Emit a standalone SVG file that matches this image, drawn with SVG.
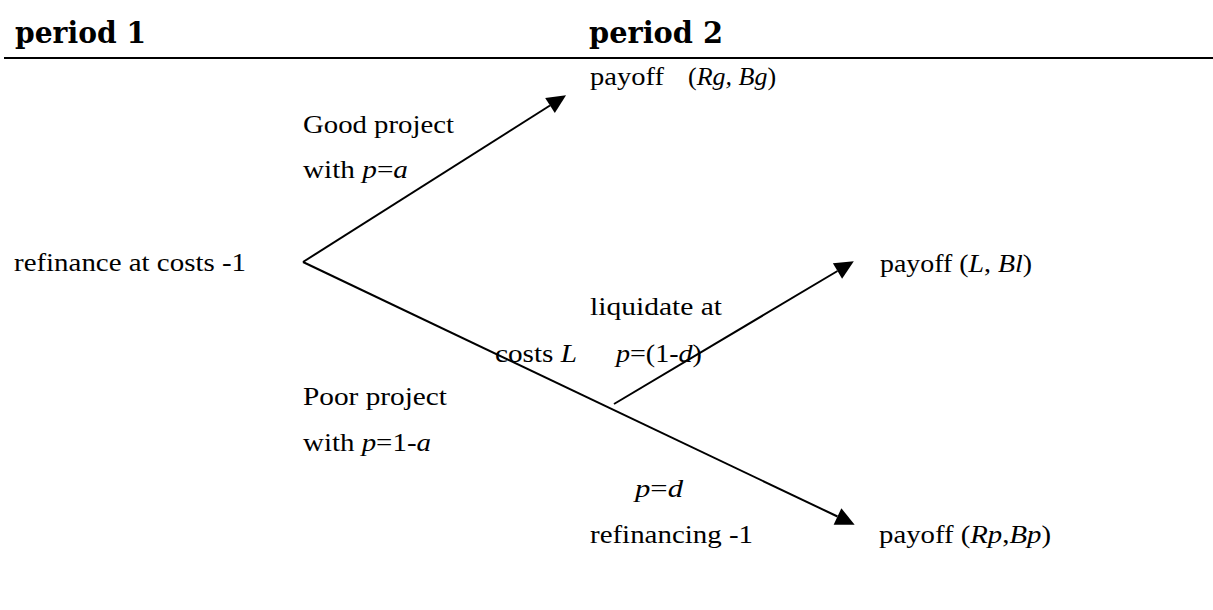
<svg xmlns="http://www.w3.org/2000/svg" width="1213" height="610" viewBox="0 0 1213 610">
<style>
text{font-family:"Liberation Serif","DejaVu Serif",serif;font-size:26px;fill:#000}
.h{font-weight:bold;font-size:30px;font-family:"DejaVu Serif","Liberation Serif",serif}
.i{font-style:italic}
.ln{stroke:#000;stroke-width:2;fill:none}
</style>
<defs>
<marker id="arr" markerUnits="userSpaceOnUse" markerWidth="22" markerHeight="20" refX="0" refY="9" orient="auto" overflow="visible">
<path d="M0,0 L19,9 L0,18 Z" fill="#000"/>
</marker>
</defs>
<rect width="1213" height="610" fill="#fff"/>
<g id="header">
<text class="h" x="15" y="43" textLength="131" lengthAdjust="spacingAndGlyphs">period 1</text>
<text class="h" x="589" y="43" textLength="134" lengthAdjust="spacingAndGlyphs">period 2</text>
<line x1="4" y1="58" x2="1213" y2="58" class="ln"/>
</g>
<g id="connectors">
<line class="ln" x1="303" y1="262" x2="550" y2="105.5" marker-end="url(#arr)"/>
<line class="ln" x1="303" y1="262" x2="837.5" y2="516.5" marker-end="url(#arr)"/>
<line class="ln" x1="614" y1="404" x2="837.5" y2="271" marker-end="url(#arr)"/>
</g>
<g id="node-start"><text x="14" y="271" textLength="232" lengthAdjust="spacingAndGlyphs">refinance at costs -1</text></g>
<g id="node-good"><text x="590" y="85"><tspan textLength="74" lengthAdjust="spacingAndGlyphs">payoff</tspan><tspan x="688">(<tspan class="i">Rg, Bg</tspan>)</tspan></text></g>
<g id="node-liquidate"><text x="880" y="272" textLength="152" lengthAdjust="spacingAndGlyphs">payoff (<tspan class="i">L</tspan>, <tspan class="i">Bl</tspan>)</text></g>
<g id="node-poor"><text x="879" y="543" textLength="172" lengthAdjust="spacingAndGlyphs">payoff (<tspan class="i">Rp</tspan>,<tspan class="i">Bp</tspan>)</text></g>
<g id="labels">
<text x="303" y="133" textLength="151" lengthAdjust="spacingAndGlyphs">Good project</text>
<text x="303" y="178" textLength="105" lengthAdjust="spacingAndGlyphs">with <tspan class="i">p</tspan>=<tspan class="i">a</tspan></text>
<text x="590" y="315" textLength="132" lengthAdjust="spacingAndGlyphs">liquidate at</text>
<text x="495" y="362" textLength="82" lengthAdjust="spacingAndGlyphs">costs <tspan class="i">L</tspan></text>
<text x="616" y="362" textLength="86" lengthAdjust="spacingAndGlyphs"><tspan class="i">p</tspan>=(1-<tspan class="i">d</tspan>)</text>
<text x="303" y="405" textLength="144" lengthAdjust="spacingAndGlyphs">Poor project</text>
<text x="303" y="451" textLength="128" lengthAdjust="spacingAndGlyphs">with <tspan class="i">p</tspan>=1-<tspan class="i">a</tspan></text>
<text x="635" y="497" textLength="48" lengthAdjust="spacingAndGlyphs"><tspan class="i">p</tspan>=<tspan class="i">d</tspan></text>
<text x="590" y="543" textLength="163" lengthAdjust="spacingAndGlyphs">refinancing -1</text>
</g>
</svg>
